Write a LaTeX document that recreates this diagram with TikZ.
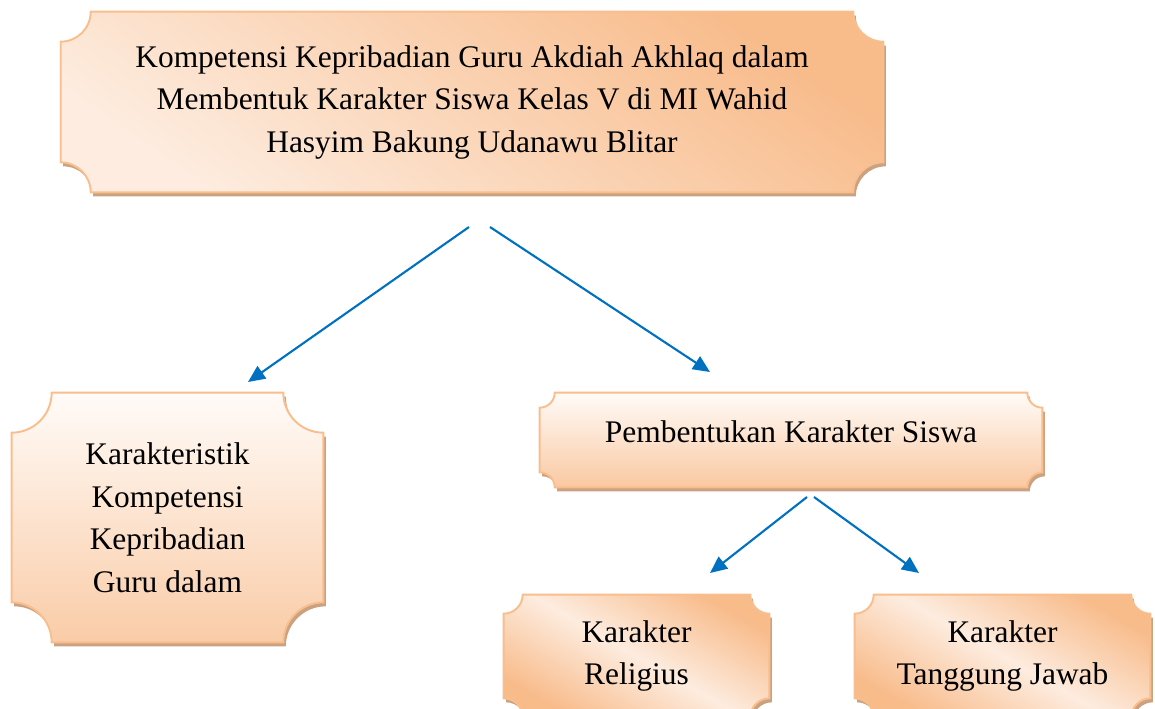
\documentclass[tikz,border=0pt]{standalone}
\usepackage{fontspec}
\setmainfont{Liberation Serif}
\usepackage{tikz}
\usetikzlibrary{arrows.meta,backgrounds,positioning}

\definecolor{plaqueline}{RGB}{249,190,141}
\definecolor{plaquedark}{RGB}{248,187,138}
\definecolor{plaquelight}{RGB}{253,236,223}
\definecolor{plaquewhite}{RGB}{255,251,248}
\definecolor{plaqueshadow}{RGB}{202,162,128}
\definecolor{arrowblue}{RGB}{0,112,192}

\tikzset{
  box/.style={inner sep=0pt, align=center, font=\fontsize{17.9}{24.2}\selectfont},
  link/.style={draw=arrowblue, line width=1.2pt, -{Triangle[length=0.34cm,width=0.3cm]}},
  plaque/.style={draw=plaqueline, line width=1.1pt},
}

% plaque: #1 node, #2 corner radius, #3 shading
\newcommand{\plaque}[3]{%
  \fill[plaqueshadow, transform canvas={shift={(0.05cm,-0.08cm)}}]
    ([xshift=#2]#1.north west) -- ([xshift=-#2]#1.north east) arc[start angle=180,end angle=270,radius=#2]
    -- ([yshift=#2]#1.south east) arc[start angle=90,end angle=180,radius=#2]
    -- ([xshift=#2]#1.south west) arc[start angle=0,end angle=90,radius=#2]
    -- ([yshift=-#2]#1.north west) arc[start angle=270,end angle=360,radius=#2] -- cycle;
  \path[plaque, #3]
    ([xshift=#2]#1.north west) -- ([xshift=-#2]#1.north east) arc[start angle=180,end angle=270,radius=#2]
    -- ([yshift=#2]#1.south east) arc[start angle=90,end angle=180,radius=#2]
    -- ([xshift=#2]#1.south west) arc[start angle=0,end angle=90,radius=#2]
    -- ([yshift=-#2]#1.north west) arc[start angle=270,end angle=360,radius=#2] -- cycle;
}

\begin{document}
\begin{tikzpicture}[x=0.02cm,y=0.02cm]
\useasboundingbox (0,0) rectangle (1155,-708);

%Judul
\node[box, minimum width=16.44cm, minimum height=3.6cm] (judul) at (472,-102)
  {Kompetensi Kepribadian Guru Akdiah Akhlaq dalam\\Membentuk Karakter Siswa Kelas V di MI Wahid\\Hasyim Bakung Udanawu Blitar};

%Karakteristik kompetensi
\node[box, minimum width=6.22cm, minimum height=4.98cm] (karakteristik) at (167.5,-517.5)
  {Karakteristik\\Kompetensi\\Kepribadian\\Guru dalam};

%Pembentukan karakter
\node[box, minimum width=10.04cm, minimum height=1.88cm, text depth=0.32cm] (pembentukan) at (791,-440)
  {Pembentukan Karakter Siswa};

%Karakter religius
\node[box, minimum width=5.3cm, minimum height=2.44cm] (religius) at (636.5,-656)
  {Karakter\\Religius};

%Karakter tanggung jawab
\node[box, minimum width=5.9cm, minimum height=2.44cm] (tanggungjawab) at (1002.5,-656)
  {Karakter\\Tanggung Jawab};

\begin{scope}[on background layer]
\plaque{judul}{0.6cm}{top color=plaquedark, bottom color=plaquelight, shading angle=-35}
\plaque{karakteristik}{0.8cm}{top color=plaquewhite, bottom color=plaquedark!75!white}
\plaque{pembentukan}{0.3cm}{top color=plaquewhite, bottom color=plaquedark!80!white}
\plaque{religius}{0.38cm}{top color=plaquedark, bottom color=plaquedark, middle color=plaquelight, shading angle=-30}
\plaque{tanggungjawab}{0.38cm}{top color=plaquedark, bottom color=plaquedark, middle color=plaquelight, shading angle=-30}
\end{scope}

%Panah
\coordinate (judul-kiri) at (469,-227);
\coordinate (judul-kanan) at (490,-227);
\coordinate (karakteristik-atas) at (248,-382);
\coordinate (pembentukan-atas) at (710,-372);
\coordinate (pembentukan-kiri) at (807,-497);
\coordinate (pembentukan-kanan) at (814,-497);
\coordinate (religius-atas) at (710,-573);
\coordinate (tanggungjawab-atas) at (919,-573);

\draw[link] (judul-kiri) -- (karakteristik-atas);
\draw[link] (judul-kanan) -- (pembentukan-atas);
\draw[link] (pembentukan-kiri) -- (religius-atas);
\draw[link] (pembentukan-kanan) -- (tanggungjawab-atas);
\end{tikzpicture}
\end{document}
